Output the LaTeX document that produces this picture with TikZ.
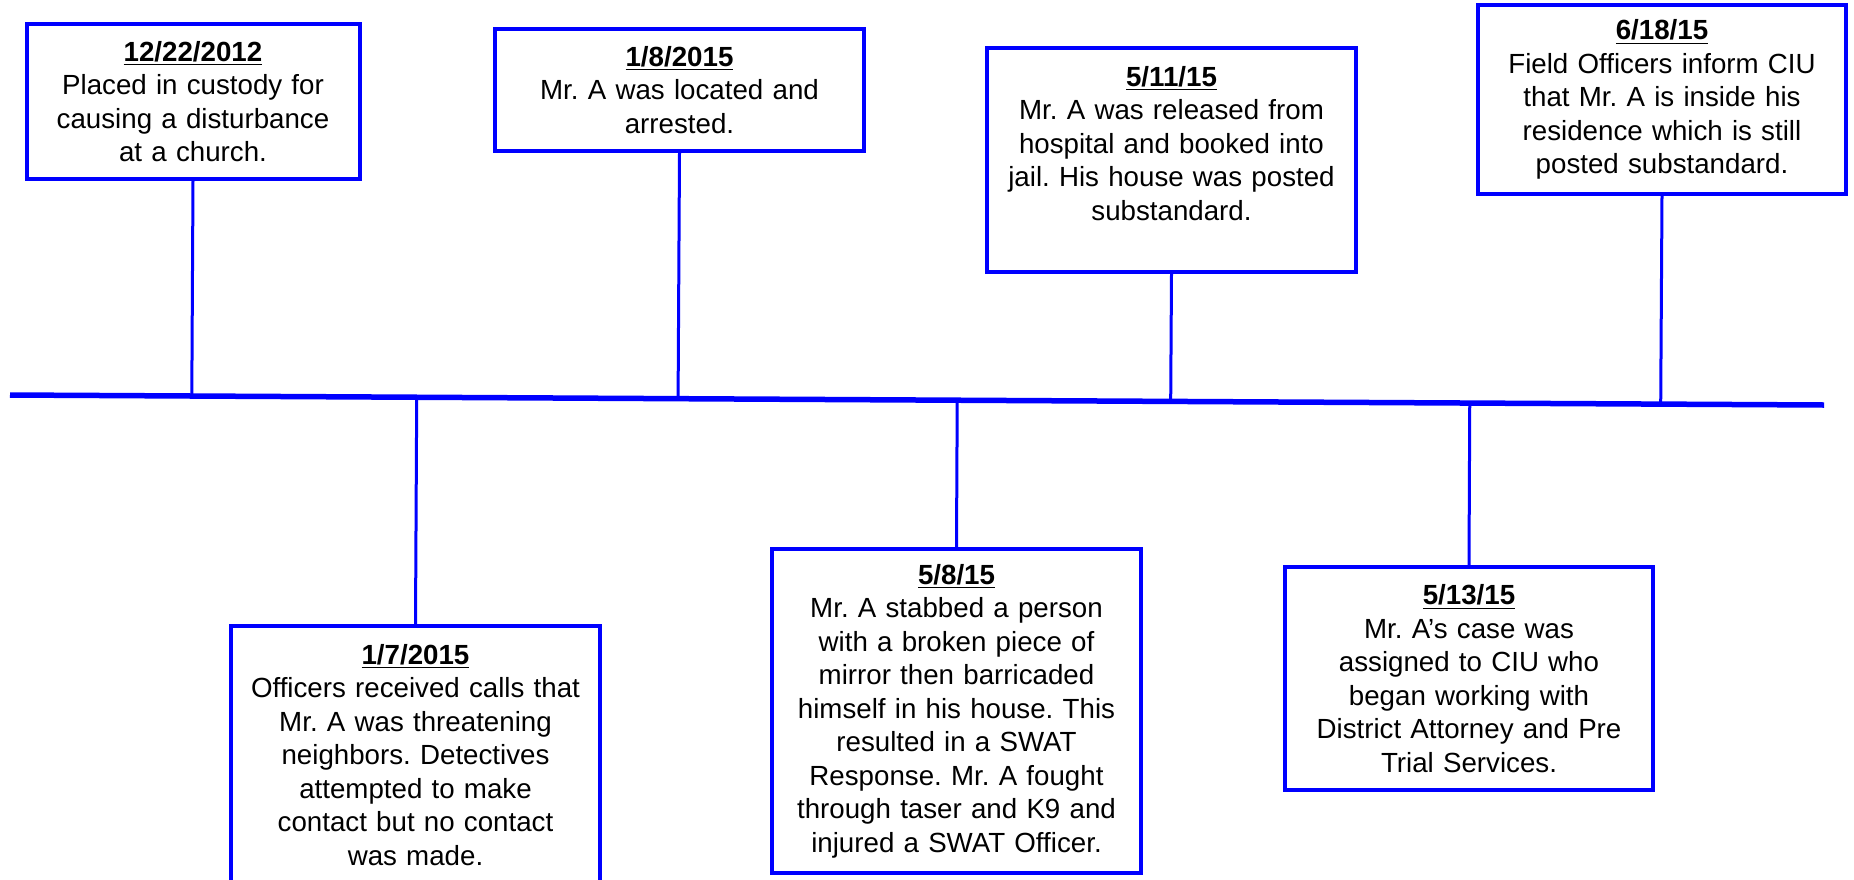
\documentclass[tikz,border=0pt]{standalone}
\usepackage{fontspec}
\setmainfont{Liberation Sans}
\frenchspacing
\usetikzlibrary{calc}
\tikzset{
    event/.style={draw=blue, line width=2pt, fill=white, inner sep=0pt, align=center,
        text=black, font=\fontsize{13.85pt}{16.75pt}\selectfont},
    stem/.style={draw=blue, line width=1.5pt},
    timeline/.style={draw=blue, line width=2.75pt},
}
\newcommand\Date[1]{\underline{\textbf{#1}}}
\newcommand\StemUp[1]{%
    \draw[stem] (#1.south) -- ($(TimeStart)!(#1.south)!(TimeEnd)$);
}
\newcommand\StemDown[1]{%
    \draw[stem] ($(TimeStart)!(#1.north)!(TimeEnd)$) -- (#1.north);
}

\begin{document}
\begin{tikzpicture}[x=0.5pt,y=-0.5pt]
    \useasboundingbox (0,0) rectangle (1854,879);
    \clip (0,0) rectangle (1854,879);
    \coordinate (TimeStart) at (10,395);
    \coordinate (TimeEnd) at (1824,405);

    \node[event, text width=166.5pt, minimum height=77.5pt] (Custody) at (193,101.5)
        {\Date{12/22/2012}\\Placed in custody for\\causing a disturbance\\at a church.};
    \node[event, text width=184.5pt, minimum height=61pt] (Located) at (679.5,90)
        {\Date{1/8/2015}\\Mr. A was located and\\arrested.};
    \node[event, text width=184.5pt, minimum height=112pt] (Released) at (1171.5,160)
        {\Date{5/11/15}\\Mr. A was released from\\hospital and booked into\\jail. His house was posted\\substandard.\\\mbox{}};
    \node[event, text width=184pt, minimum height=94.5pt] (Informed) at (1662,99.5)
        {\Date{6/18/15}\\Field Officers inform CIU\\that Mr. A is inside his\\residence which is still\\posted substandard.};

    \node[event, text width=184.5pt, minimum height=129pt] (Calls) at (415.5,755)
        {\Date{1/7/2015}\\Officers received calls that\\Mr. A was threatening\\neighbors. Detectives\\attempted to make\\contact but no contact\\was made.};
    \node[event, text width=184.5pt, minimum height=162pt] (Stabbed) at (956.5,711)
        {\Date{5/8/15}\\Mr. A stabbed a person\\with a broken piece of\\mirror then barricaded\\himself in his house. This\\resulted in a SWAT\\Response. Mr. A fought\\through taser and K9 and\\injured a SWAT Officer.};
    \node[event, text width=184pt, minimum height=111.5pt] (Assigned) at (1469,678.5)
        {\Date{5/13/15}\\Mr. A’s case was\\assigned to CIU who\\began working with\\District Attorney and Pre\\Trial Services.};

    \StemUp{Custody}
    \StemUp{Located}
    \StemUp{Released}
    \StemUp{Informed}
    \StemDown{Calls}
    \StemDown{Stabbed}
    \StemDown{Assigned}
    \draw[timeline] (TimeStart) -- (TimeEnd);
\end{tikzpicture}
\end{document}
